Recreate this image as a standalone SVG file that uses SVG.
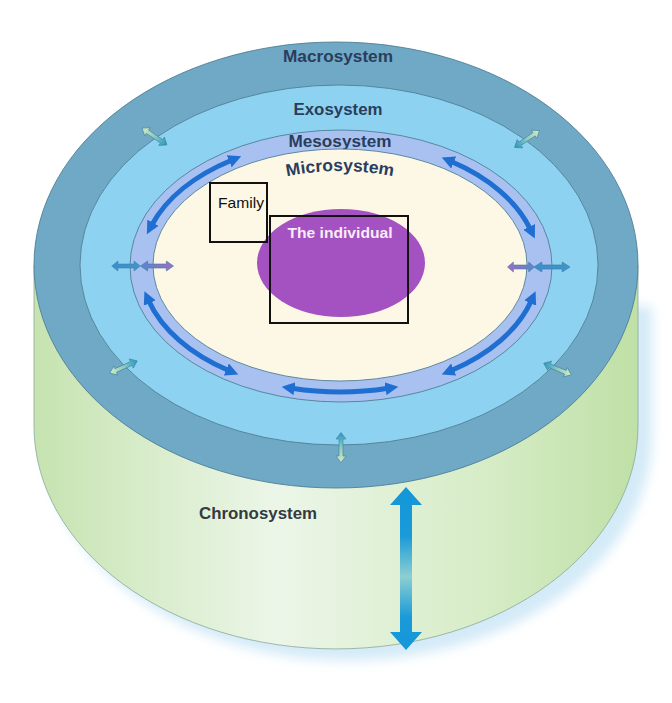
<svg xmlns="http://www.w3.org/2000/svg" width="672" height="703" viewBox="0 0 672 703">
  <defs>
    <style>
      .lbl { font-family: "Liberation Sans", Arial, sans-serif; font-weight: bold; font-size: 17px; fill: #2b3d5c; text-anchor: middle; }
      .ring { stroke: #4f7f95; stroke-width: 0.9; }
      .arc { fill: none; stroke: #1f6fd2; stroke-width: 5; marker-start: url(#head); marker-end: url(#head); }
      .box { fill: none; stroke: #111; stroke-width: 2; }
    </style>
    <linearGradient id="sideGrad" x1="0" y1="0" x2="1" y2="0">
      <stop offset="0" stop-color="#c6e3b0"/>
      <stop offset="0.4" stop-color="#ecf6e8"/>
      <stop offset="0.75" stop-color="#d6ecc6"/>
      <stop offset="1" stop-color="#bfe0a6"/>
    </linearGradient>
    <linearGradient id="chronoGrad" x1="0" y1="0" x2="0" y2="1">
      <stop offset="0" stop-color="#1496d8"/>
      <stop offset="0.3" stop-color="#1a9ad8"/>
      <stop offset="0.55" stop-color="#8ccfd2"/>
      <stop offset="0.8" stop-color="#1a9ad8"/>
      <stop offset="1" stop-color="#1496d8"/>
    </linearGradient>
    <linearGradient id="gt" x1="0" y1="0" x2="1" y2="0">
      <stop offset="0" stop-color="#d2ebc4"/>
      <stop offset="0.5" stop-color="#8fcbc0"/>
      <stop offset="1" stop-color="#2597c2"/>
    </linearGradient>
    <linearGradient id="bb" x1="0" y1="0" x2="1" y2="0">
      <stop offset="0" stop-color="#3a8fd0"/>
      <stop offset="1" stop-color="#3f95cc"/>
    </linearGradient>
    <linearGradient id="bp" x1="0" y1="0" x2="1" y2="0">
      <stop offset="0" stop-color="#5a86d0"/>
      <stop offset="1" stop-color="#a06cc4"/>
    </linearGradient>
    <marker id="head" viewBox="0 0 10 10" refX="2" refY="5" markerWidth="13" markerHeight="13" markerUnits="userSpaceOnUse" orient="auto-start-reverse">
      <path d="M0,0 L10,5 L0,10 z" fill="#1f6fd2"/>
    </marker>
    <path id="dbl" d="M-15,0 L-8.5,-5 L-8.5,-2 L8.5,-2 L8.5,-5 L15,0 L8.5,5 L8.5,2 L-8.5,2 L-8.5,5 Z"/>
    <filter id="blur" x="-20%" y="-20%" width="140%" height="140%">
      <feGaussianBlur stdDeviation="6"/>
    </filter>
  </defs>

  <rect width="672" height="703" fill="#ffffff"/>

  <g id="chronosystem">
    <path d="M 40 430 A 302 223 0 0 0 648 430 L 648 300 L 40 300 Z" fill="#a9d6f0" opacity="0.5" filter="url(#blur)" transform="translate(4,6)"/>
    <path d="M 34 265 L 34 426 A 302 223 0 0 0 638 426 L 638 265 Z" fill="url(#sideGrad)" stroke="#8aa89a" stroke-width="0.8"/>
    <text class="lbl" x="258" y="519" style="fill:#343a40" textLength="118" lengthAdjust="spacingAndGlyphs">Chronosystem</text>
    <path d="M406,487 L390,505 L400,505 L400,632 L390,632 L406,650 L422,632 L412,632 L412,505 L422,505 Z" fill="url(#chronoGrad)"/>
  </g>

  <g id="macrosystem">
    <ellipse cx="336" cy="265" rx="302" ry="223" fill="#6fa9c6" class="ring"/>
    <text class="lbl" x="338" y="62" textLength="110" lengthAdjust="spacingAndGlyphs">Macrosystem</text>
  </g>

  <g id="exosystem">
    <ellipse cx="339" cy="265" rx="259" ry="180" fill="#8dd3f1" class="ring"/>
    <text class="lbl" x="338" y="115" textLength="89" lengthAdjust="spacingAndGlyphs">Exosystem</text>
  </g>

  <g id="mesosystem">
    <ellipse cx="341" cy="266" rx="211" ry="136" fill="#a8c1f1" class="ring"/>
    <text class="lbl" x="340" y="147" textLength="103" lengthAdjust="spacingAndGlyphs">Mesosystem</text>
  </g>

  <g id="microsystem">
    <ellipse cx="340" cy="265" rx="187" ry="116" fill="#fdf7e6" class="ring"/>
    <path id="microArc" d="M 284 177 Q 340 165 396 177" fill="none"/>
    <text class="lbl"><textPath href="#microArc" startOffset="50%" textLength="107" lengthAdjust="spacingAndGlyphs">Microsystem</textPath></text>
  </g>

  <g id="individual">
    <ellipse cx="341" cy="263" rx="84" ry="54" fill="#a452c2"/>
    <rect class="box" x="270" y="216" width="138" height="107"/>
    <text x="340" y="238" text-anchor="middle" font-family="'Liberation Sans', Arial, sans-serif" font-weight="bold" font-size="15" fill="#f8ecf8" textLength="105" lengthAdjust="spacingAndGlyphs">The individual</text>
  </g>

  <g id="family">
    <rect class="box" x="210" y="183" width="57" height="59"/>
    <text x="218" y="208" font-family="'Liberation Sans', Arial, sans-serif" font-size="15" fill="#111" textLength="46" lengthAdjust="spacingAndGlyphs">Family</text>
  </g>

  <g id="connectors">
    <path class="arc" d="M 151.8 225.0 A 199 126 0 0 1 231.6 160.3"/>
    <path class="arc" d="M 451.3 161.5 A 199 126 0 0 1 530.3 229.2"/>
    <path class="arc" d="M 531.3 300.7 A 199 126 0 0 1 451.3 370.5"/>
    <path class="arc" d="M 388.1 388.3 A 199 126 0 0 1 291.9 388.3"/>
    <path class="arc" d="M 228.7 370.5 A 199 126 0 0 1 148.7 300.7"/>

    <g stroke="#3f7f9e" stroke-width="0.6">
      <use href="#dbl" fill="url(#bb)" transform="translate(126,266) scale(0.95,1)"/>
      <use href="#dbl" fill="url(#bp)" transform="translate(157,266) scale(1.1,1)"/>
      <use href="#dbl" fill="url(#bp)" transform="translate(521,267) rotate(180) scale(0.9,1)"/>
      <use href="#dbl" fill="url(#bb)" transform="translate(552,267) scale(1.2,1)"/>

      <use href="#dbl" fill="url(#gt)" transform="translate(154.5,136.5) rotate(34)"/>
      <use href="#dbl" fill="url(#gt)" transform="translate(527,139) rotate(146)"/>
      <use href="#dbl" fill="url(#gt)" transform="translate(123.5,367) rotate(-24)"/>
      <use href="#dbl" fill="url(#gt)" transform="translate(557.5,369) rotate(202.5)"/>
      <use href="#dbl" fill="url(#gt)" transform="translate(341,447.5) rotate(-90)"/>
    </g>
  </g>
</svg>
